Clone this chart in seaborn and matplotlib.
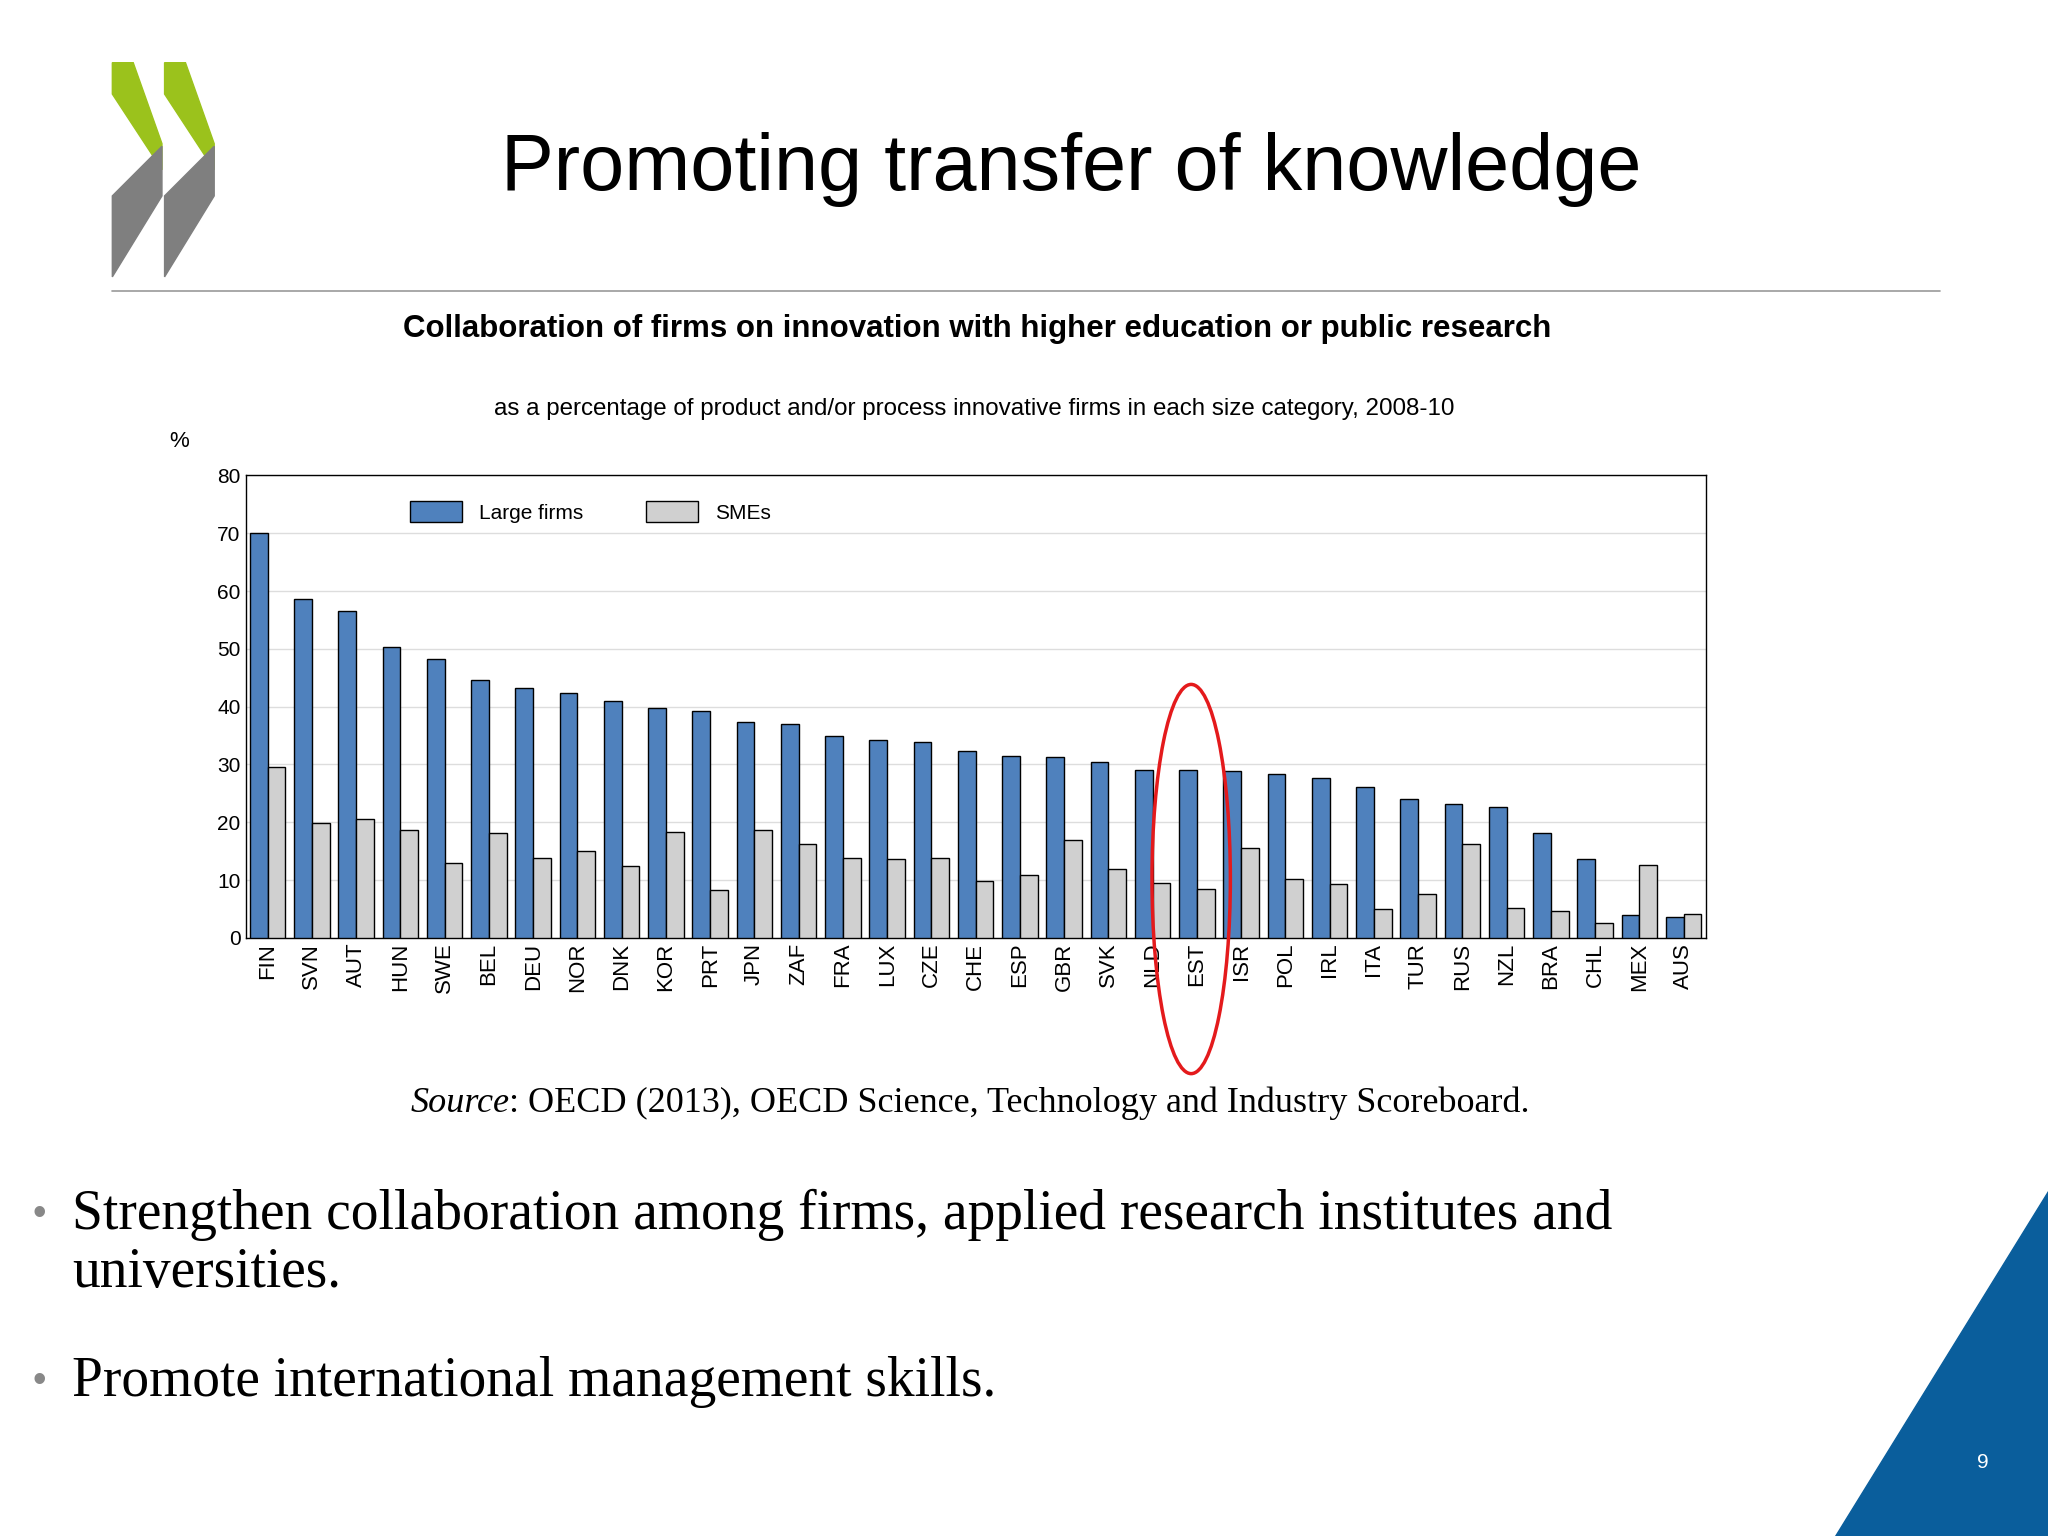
import numpy as np
import pandas as pd
import seaborn as sns
import matplotlib.pyplot as plt
from matplotlib.patches import Polygon, Ellipse
from matplotlib.lines import Line2D

# data
countries = ['FIN','SVN','AUT','HUN','SWE','BEL','DEU','NOR','DNK','KOR','PRT','JPN','ZAF',
             'FRA','LUX','CZE','CHE','ESP','GBR','SVK','NLD','EST','ISR','POL','IRL','ITA',
             'TUR','RUS','NZL','BRA','CHL','MEX','AUS']
large = [70.0,58.7,56.5,50.3,48.2,44.6,43.3,42.3,40.9,39.8,39.2,37.3,37.0,
         34.9,34.3,33.8,32.4,31.4,31.3,30.4,29.0,29.0,28.8,28.4,27.6,26.1,
         24.1,23.2,22.6,18.1,13.6,4.0,3.6]
smes = [29.5,19.8,20.5,18.7,13.0,18.2,13.8,15.1,12.4,18.3,8.3,18.7,16.2,
        13.8,13.6,13.8,9.9,10.9,16.9,11.9,9.5,8.4,15.6,10.1,9.3,5.0,
        7.6,16.2,5.1,4.7,2.6,12.6,4.1]
series = ['Large firms', 'SMEs']

df = pd.DataFrame({'country': countries * 2,
                   'value': large + smes,
                   'series': [series[0]] * len(countries) + [series[1]] * len(countries)})

sns.set_style('white')
plt.rcParams['font.family'] = ['Liberation Sans', 'DejaVu Sans']
plt.rcParams['text.color'] = 'black'

W, H = 1568, 1176
def fx(x): return x / W
def fy(y): return 1 - y / H

fig = plt.figure(figsize=(20.48, 15.36), dpi=100)
fig.patch.set_facecolor('white')

ax = fig.add_axes([fx(188), fy(718), fx(1306) - fx(188), fy(364) - fy(718)])
sns.barplot(data=df, x='country', y='value', hue='series', ax=ax,
            palette=['#4F81BD', '#D0D0D0'], edgecolor='black', linewidth=1,
            width=0.8, gap=0, saturation=1, zorder=3)
ax.set_ylim(0, 80)
ax.set_xlim(-0.5, len(countries) - 0.5)
ax.set_yticks(range(0, 81, 10))
ax.yaxis.grid(True, color='#DDDDDD', linewidth=1, zorder=0)
ax.set_xlabel('')
ax.set_ylabel('')
ax.tick_params(axis='x', rotation=90, labelsize=16, length=0, labelcolor='black')
ax.tick_params(axis='y', labelsize=15, length=0, labelcolor='black')
for s in ax.spines.values():
    s.set_color('black')
    s.set_linewidth(1)
leg = ax.legend(loc='upper left', bbox_to_anchor=(0.1, 0.985), ncol=2, frameon=False,
                fontsize=15, handlelength=2.5, handleheight=1.2, columnspacing=3)

# titles and text
fig.text(fx(820), fy(130), 'Promoting transfer of knowledge', ha='center', va='center', fontsize=57)
fig.add_artist(Line2D([fx(86), fx(1485)], [fy(223), fy(223)], color='#999999', linewidth=1.2))
fig.text(fx(748), fy(252), 'Collaboration of firms on innovation with higher education or public research',
         ha='center', va='center', fontsize=22.5, fontweight='bold')
fig.text(fx(746), fy(313), 'as a percentage of product and/or process innovative firms in each size category, 2008-10',
         ha='center', va='center', fontsize=17.4)
fig.text(fx(137), fy(338), '%', ha='center', va='center', fontsize=16)

src = fig.text(fx(314), fy(845), 'Source', ha='left', va='center', fontsize=26,
               family='Liberation Serif', style='italic')
fig.canvas.draw()
bb = src.get_window_extent().transformed(fig.transFigure.inverted())
fig.text(bb.x1, fy(845), ': OECD (2013), OECD Science, Technology and Industry Scoreboard.',
         ha='left', va='center', fontsize=26, family='Liberation Serif')

for y, t in [(930, 'Strengthen collaboration among firms, applied research institutes and'),
             (975, 'universities.'), (1058, 'Promote international management skills.')]:
    fig.text(fx(55), fy(y), t, ha='left', va='center', fontsize=40, family='Liberation Serif')
for y in [930, 1058]:
    fig.text(fx(30), fy(y), '•', ha='center', va='center', fontsize=28, color='#888888')

# red ellipse around EST
fig.add_artist(Ellipse((fx(912), fy(673)), fx(60), 298 / H, fill=False,
                       edgecolor='#E41A1C', linewidth=2.5, transform=fig.transFigure))

# logo
for dx in [0, 40]:
    g = [(86 + dx, 48), (102 + dx, 48), (124 + dx, 110), (124 + dx, 130), (86 + dx, 72)]
    k = [(86 + dx, 150), (124 + dx, 112), (124 + dx, 150), (86 + dx, 212)]
    fig.add_artist(Polygon([(fx(a), fy(b)) for a, b in g], closed=True, color='#9BC21C',
                           transform=fig.transFigure))
    fig.add_artist(Polygon([(fx(a), fy(b)) for a, b in k], closed=True, color='#7F7F7F',
                           transform=fig.transFigure))

# corner triangle and page number
fig.add_artist(Polygon([(fx(1405), 0), (1, 0), (1, fy(912))], closed=True, color='#0A5E9C',
                       transform=fig.transFigure))
fig.text(fx(1518), fy(1120), '9', ha='center', va='center', fontsize=15, color='white')

fig.savefig('out.png', dpi=100)
